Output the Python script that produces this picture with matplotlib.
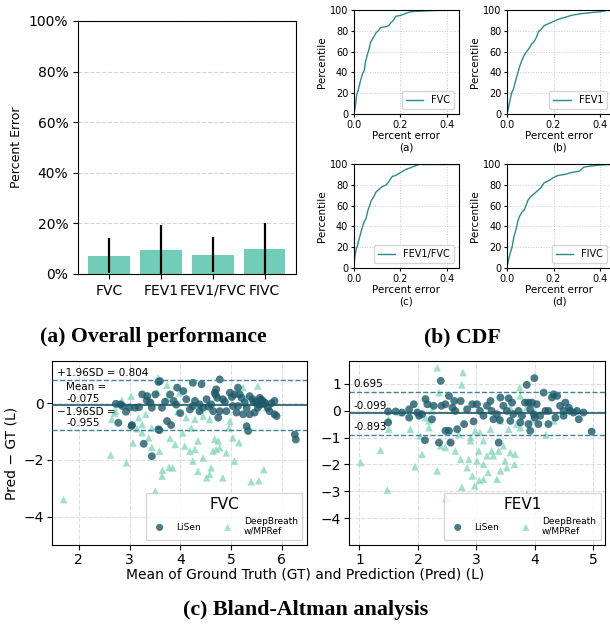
import matplotlib
matplotlib.use('Agg')
import matplotlib.pyplot as plt
import numpy as np

### data ###

metrics = ['FVC', 'FEV1', 'FEV1/FVC', 'FIVC']
err_mean = [7.2, 9.6, 7.6, 10.0]
err_std = [7.0, 9.7, 7.0, 10.1]

cdf_fvc_x = [0, 0.003, 0.008, 0.012, 0.018, 0.022, 0.03, 0.038, 0.045, 0.05, 0.058, 0.065, 0.072, 0.08,
             0.088, 0.095, 0.105, 0.115, 0.125, 0.14, 0.15, 0.16, 0.17, 0.18, 0.195, 0.21, 0.225, 0.24,
             0.25, 0.3, 0.35, 0.45]
cdf_fvc_p = [0, 3, 10, 18, 22, 26, 33, 39, 42, 50, 57, 62, 69, 72, 75, 78, 80, 83, 83.5, 84, 85, 88, 90,
             94, 94.5, 95.5, 97, 98, 98.5, 99, 99.5, 100]
cdf_fev1_x = [0, 0.005, 0.012, 0.02, 0.028, 0.035, 0.045, 0.055, 0.065, 0.075, 0.085, 0.095, 0.105, 0.115,
              0.125, 0.135, 0.145, 0.16, 0.18, 0.2, 0.22, 0.25, 0.28, 0.32, 0.36, 0.4, 0.44]
cdf_fev1_p = [0, 4, 12, 20, 24, 30, 38, 46, 52, 57, 60, 63, 67, 69, 73, 79, 81, 85, 87, 89, 91, 93, 95,
              96.5, 97.5, 98.3, 100]
cdf_ratio_x = [0, 0.004, 0.01, 0.015, 0.022, 0.03, 0.038, 0.045, 0.052, 0.06, 0.068, 0.075, 0.085, 0.095,
               0.105, 0.12, 0.14, 0.15, 0.165, 0.18, 0.195, 0.21, 0.225, 0.24, 0.26, 0.28, 0.29]
cdf_ratio_p = [0, 10, 18, 21, 27, 34, 40, 45, 47, 55, 60, 65, 68, 73, 75, 78, 80, 83, 88, 89, 91, 93, 95,
               96, 98, 99.5, 100]
cdf_fivc_x = [0, 0.006, 0.015, 0.022, 0.03, 0.04, 0.048, 0.055, 0.065, 0.075, 0.082, 0.09, 0.1, 0.115,
              0.13, 0.145, 0.16, 0.18, 0.2, 0.22, 0.25, 0.28, 0.31, 0.32, 0.33, 0.36, 0.4, 0.45]
cdf_fivc_p = [0, 7, 15, 20, 30, 38, 46, 50, 54, 56, 60, 65, 68, 71, 74, 77, 82, 84, 87, 89, 90, 92, 93,
              95, 97, 98, 99, 99.5]

# Bland-Altman, FVC
fvc_lisen_x = [2.78, 2.73, 2.82, 2.93, 3.05, 2.86, 3.19, 3.25, 3.34, 3.44, 3.57, 3.60, 3.74, 3.57, 3.44,
               3.64, 3.51, 3.80, 3.87, 3.41, 3.11, 3.94, 3.04, 3.28, 3.59, 3.82,
               4.78, 4.25, 4.42, 4.06, 4.12, 4.29, 4.25, 4.38, 4.52, 4.61, 4.68, 4.71, 4.73, 4.78, 4.84,
               4.98, 5.07, 5.14, 5.17, 5.21, 5.27, 5.31, 5.37, 5.43, 5.50, 5.57, 5.60, 5.53, 5.47, 5.37,
               5.24, 5.31, 5.34, 5.67, 5.73, 5.86, 5.86, 5.90, 5.76, 6.26, 6.28, 5.04, 4.91, 4.65, 4.75,
               5.11, 5.14, 4.38, 4.45, 4.19, 3.70, 3.92, 4.00, 5.62, 5.55, 5.80, 4.56, 4.88,
               5.45, 5.58, 5.66, 5.02, 4.70, 3.35, 3.00]
fvc_lisen_y = [-0.69, -0.02, -0.04, -0.30, -0.77, -0.10, -0.14, 0.31, 0.10, -1.87, 0.75, 0.78, -0.63,
               -0.92, -0.16, -0.16, 0.31, 0.31, 0.08, 0.02, -0.16, 0.55, -0.80, -1.43, -0.95, -0.77,
               0.84, 0.72, 0.67, 0.43, 0.14, 0.08, -0.10, -0.28, 0.14, -0.04, 0.37, 0.49, 0.19, -0.28,
               0.14, 0.37, 0.31, 0.55, 0.31, 0.19, 0.02, -0.16, 0.25, 0.14, 0.02, 0.19, -0.04, -0.16,
               -0.33, -0.39, -0.39, -0.81, -0.98, 0.02, -0.16, 0.08, -0.39, -0.45, -0.28, -1.10, -1.28,
               -0.10, -0.28, -0.28, -0.51, -0.33, -0.10, -0.04, -0.16, -0.22, 0.05, -0.05, -0.35, 0.10,
               -0.05, 0.00, -0.12, 0.05, 0.05, 0.12, -0.02, 0.22, 0.30, 0.25, -0.15]
fvc_db_x = [1.70, 2.63, 2.94, 3.03, 2.65, 3.57, 3.74, 3.07, 3.25, 3.38, 3.44, 3.59, 3.65, 3.78, 3.85,
            3.51, 3.64, 3.80, 3.02, 2.73, 3.18, 3.32, 3.25, 3.44, 3.74, 3.44, 3.90, 2.75, 2.85, 2.70,
            3.99, 4.09, 4.19, 4.29, 4.25, 4.35, 4.45, 4.52, 4.58, 4.61, 4.65, 4.71, 4.75, 4.78, 4.84,
            4.91, 4.96, 5.07, 5.16, 5.40, 5.55, 5.65, 4.12, 4.29, 4.45, 4.58, 4.98, 5.04, 5.31, 5.53,
            5.70, 5.24, 4.22, 4.68, 4.35, 3.15, 3.55, 3.95, 4.05, 4.40]
fvc_db_y = [-3.40, -1.83, -2.10, 0.25, -0.57, 0.90, 0.64, -1.40, -1.04, -1.22, -1.55, -1.69, -2.36, -2.26,
            -2.28, -3.10, -2.57, -1.24, -0.75, -0.28, -0.51, -0.39, -0.75, -0.87, 0.19, 0.08, -1.45,
            -0.05, 0.10, -0.35, 0.37, -1.51, -1.69, -1.63, -2.04, -2.40, -1.93, -2.63, -2.51, -2.28,
            -1.69, -1.63, -1.33, -1.57, -2.63, -1.75, -0.87, -2.04, -1.39, -2.77, -2.73, -2.34, -0.51,
            -0.57, -0.45, -0.57, -0.63, -1.22, 0.19, 0.61, -0.16, 0.55, -0.87, -1.27, -1.33, -0.90,
            0.40, -0.30, -1.05, -0.25]

# Bland-Altman, FEV1
fev1_lisen_x = [2.39, 1.49, 1.62, 1.73, 1.85, 1.93, 1.99, 2.02, 2.07, 2.13, 2.16, 2.24, 2.27, 2.40, 2.47,
                2.53, 2.53, 2.59, 2.64, 2.62, 2.73, 2.79, 2.12, 2.36, 2.47, 2.67, 2.84, 2.93, 1.49, 1.85,
                2.56, 3.99, 3.86, 3.01, 3.18, 3.24, 3.26, 3.35, 3.41, 3.38, 3.46, 3.52, 3.55, 3.61, 3.63,
                3.72, 3.78, 3.83, 3.89, 3.92, 3.95, 3.98, 4.00, 4.03, 4.09, 4.15, 4.18, 4.23, 4.29, 4.32,
                4.38, 4.43, 4.49, 4.52, 4.60, 4.66, 4.72, 4.75, 4.97, 3.92, 3.89, 4.06, 4.23, 4.35, 4.49,
                3.06, 3.12, 3.29, 3.58, 3.75, 4.58, 4.83, 2.95, 3.40]
fev1_lisen_y = [1.11, -0.03, -0.03, -0.07, -0.26, 0.24, -0.07, -0.19, -0.13, 0.43, 0.24, -0.32, 0.18,
                0.18, 0.24, 0.55, -0.75, 0.11, -0.01, 0.36, 0.36, -0.50, -1.10, -1.19, -0.75, -0.69, 0.05,
                0.24, -0.44, 0.05, -1.19, 1.21, 0.96, 0.24, 0.18, 0.36, -0.01, -0.13, 0.49, -1.19, 0.18,
                -0.01, 0.46, 0.30, -0.13, -0.01, -0.19, 0.30, 0.30, 0.05, 0.30, -0.13, -0.26, 0.24, -0.19,
                0.67, -0.01, -0.01, 0.49, 0.61, 0.55, 0.18, -0.01, 0.30, -0.01, -0.07, -0.01, -0.32, -0.78,
                -0.75, -0.50, -0.50, -0.50, -0.26, -0.19, -0.01, -0.19, -0.32, -0.38, -0.44, 0.11, -0.07,
                -0.40, -0.35]
fev1_db_x = [2.33, 2.77, 2.75, 2.36, 1.02, 1.36, 1.48, 1.95, 2.33, 2.48, 1.50, 1.50, 1.87, 2.07, 2.04,
             2.19, 2.22, 2.24, 2.39, 2.47, 2.53, 2.64, 2.73, 2.90, 2.87, 2.84, 2.93, 2.97, 2.53, 2.70,
             1.70, 2.13, 2.19, 2.98, 3.75, 3.74, 3.86, 3.58, 3.66, 3.46, 3.38, 3.29, 3.26, 3.18, 3.12,
             3.35, 3.41, 3.49, 3.52, 3.12, 3.04, 3.06, 3.12, 3.24, 3.55, 3.69, 3.75, 4.19, 3.58, 3.86,
             3.95, 4.32, 3.41, 3.01, 2.75, 3.05, 3.20, 2.90, 3.65]
fev1_db_y = [1.60, 1.42, 0.96, 0.67, -1.93, -1.47, -2.95, -2.09, -2.24, -3.27, -0.32, -0.69, -0.69,
             -1.62, -0.94, -0.63, 0.24, -0.01, -1.31, -1.37, -1.12, -1.50, -1.81, -1.12, -1.81, -2.12,
             -2.43, -2.80, -0.75, -0.88, -0.07, -0.26, -0.38, -0.75, 0.55, 0.86, -3.11, -1.56, -1.62,
             -1.31, -1.50, -1.68, -1.50, -1.68, -1.99, -2.55, -2.24, -1.87, -2.12, -2.55, -1.50, -0.81,
             -1.12, -0.69, -0.69, -0.50, -0.63, -0.90, 0.11, 0.11, -0.32, -0.38, -0.38, -1.87, -2.85,
             -2.60, -2.30, -1.00, -2.00]

fvc_stats = (0.804, -0.075, -0.955)
fev1_stats = (0.695, -0.099, -0.893)

### styling ###

bar_col = '#72cdb8'
line_col = '#2b8a90'
dark = '#1d5a69'
light = '#7fd6bc'

fig = plt.figure(figsize=(6.1, 6.28), dpi=100)

# (a) overall performance
ax = fig.add_axes([0.128, 0.5637, 0.357, 0.403])
xpos = np.arange(len(metrics))
ax.bar(xpos, err_mean, width=0.8, color=bar_col, zorder=2)
ax.errorbar(xpos, err_mean, yerr=err_std, fmt='none', ecolor='black', elinewidth=1.6, capsize=0, zorder=3)
ax.set_xticks(xpos)
ax.set_xticklabels(metrics, fontsize=10)
ax.set_xlim(-0.6, 3.6)
ax.set_ylim(0, 100)
ax.set_yticks(np.arange(0, 101, 20))
ax.set_yticklabels(['%d%%' % v for v in range(0, 101, 20)], fontsize=10)
ax.set_ylabel('Percent Error', fontsize=9)
ax.yaxis.grid(True, linestyle='--', color='#d5d5d5', zorder=0)
ax.set_axisbelow(True)

# (b) CDFs
cdfs = [(cdf_fvc_x, cdf_fvc_p, 'FVC', '(a)'),
        (cdf_fev1_x, cdf_fev1_p, 'FEV1', '(b)'),
        (cdf_ratio_x, cdf_ratio_p, 'FEV1/FVC', '(c)'),
        (cdf_fivc_x, cdf_fivc_p, 'FIVC', '(d)')]
cpos = [[0.580, 0.8185, 0.172, 0.1656], [0.831, 0.8185, 0.172, 0.1656],
        [0.580, 0.5733, 0.172, 0.1656], [0.831, 0.5733, 0.172, 0.1656]]
for (cx, cp, lab, sub), pos in zip(cdfs, cpos):
    a = fig.add_axes(pos)
    a.plot(cx, cp, color=line_col, lw=1.0, label=lab)
    a.plot([cx[-1], 0.45], [cp[-1], 100], color=line_col, lw=1.0)
    a.set_xlim(0, 0.45)
    a.set_ylim(0, 100)
    a.set_xticks([0, 0.2, 0.4])
    a.set_yticks(range(0, 101, 20))
    a.tick_params(labelsize=7, length=2.5, pad=1.5)
    a.grid(True, linestyle=':', color='#cccccc', lw=0.7)
    a.set_ylabel('Percentile', fontsize=7.5, labelpad=2)
    a.set_xlabel('Percent error\n' + sub, fontsize=7.5, labelpad=1, linespacing=1.2)
    a.legend(loc='lower right', fontsize=7, handlelength=1.8, borderpad=0.4)

# (c) Bland-Altman
def bland(a, lx, ly, dx, dy, stats, title):
    a.scatter(dx, dy, marker='^', s=30, color=light, alpha=0.75, edgecolors='none',
              label='DeepBreath\nw/MPRef', zorder=2)
    a.scatter(lx, ly, marker='o', s=32, color=dark, alpha=0.8, edgecolors='none',
              label='LiSen', zorder=3)
    a.axhline(stats[1], color=dark, lw=1.2, zorder=4)
    a.axhline(stats[0], color='#3e8398', lw=1.0, ls='--', zorder=4)
    a.axhline(stats[2], color='#3e8398', lw=1.0, ls='--', zorder=4)
    a.grid(True, linestyle='--', color='#dddddd', lw=0.8, zorder=0)
    a.set_axisbelow(True)
    a.tick_params(labelsize=10, pad=2)
    h, l = a.get_legend_handles_labels()
    a.legend(h[::-1], l[::-1], loc='lower right', ncol=2, fontsize=6.5, title=title,
             title_fontsize=11, markerscale=0.9, columnspacing=2.0, borderpad=0.5)

ax1 = fig.add_axes([0.0852, 0.1322, 0.418, 0.293])
bland(ax1, fvc_lisen_x, fvc_lisen_y, fvc_db_x, fvc_db_y, fvc_stats, 'FVC')
ax1.set_xlim(1.47, 6.5)
ax1.set_ylim(-5, 1.49)
ax1.set_xticks([2, 3, 4, 5, 6])
ax1.set_yticks([-4, -2, 0])
ax1.set_ylabel('Pred − GT (L)', fontsize=10)
ax1.text(1.57, 1.07, '+1.96SD = %.3f' % fvc_stats[0], fontsize=7.5, va='center')
ax1.text(1.75, 0.57, 'Mean =', fontsize=7.5, va='center')
ax1.text(1.75, 0.15, '-%.3f' % -fvc_stats[1], fontsize=7.5, va='center')
ax1.text(1.57, -0.31, '−1.96SD =', fontsize=7.5, va='center')
ax1.text(1.75, -0.70, '-%.3f' % -fvc_stats[2], fontsize=7.5, va='center')

ax2 = fig.add_axes([0.572, 0.1322, 0.420, 0.293])
bland(ax2, fev1_lisen_x, fev1_lisen_y, fev1_db_x, fev1_db_y, fev1_stats, 'FEV1')
ax2.set_xlim(0.82, 5.2)
ax2.set_ylim(-5, 1.85)
ax2.set_xticks([1, 2, 3, 4, 5])
ax2.set_yticks([-4, -3, -2, -1, 0, 1])
ax2.text(0.9, 1.0, '%.3f' % fev1_stats[0], fontsize=7.5, va='center')
ax2.text(0.9, 0.19, '-%.3f' % -fev1_stats[1], fontsize=7.5, va='center')
ax2.text(0.9, -0.60, '-%.3f' % -fev1_stats[2], fontsize=7.5, va='center')

fig.text(0.5, 1 - 575 / 628, 'Mean of Ground Truth (GT) and Prediction (Pred) (L)', ha='center',
         va='center', fontsize=10)

# captions
cap = dict(family='Liberation Serif', fontweight='bold', ha='center', va='center')
fig.text(153 / 610, 1 - 337 / 628, '(a) Overall performance', fontsize=15.7, **cap)
fig.text(462 / 610, 1 - 337 / 628, '(b) CDF', fontsize=15.7, **cap)
fig.text(306 / 610, 1 - 610 / 628, '(c) Bland-Altman analysis', fontsize=15.8, **cap)

fig.savefig('out.png', dpi=100)
